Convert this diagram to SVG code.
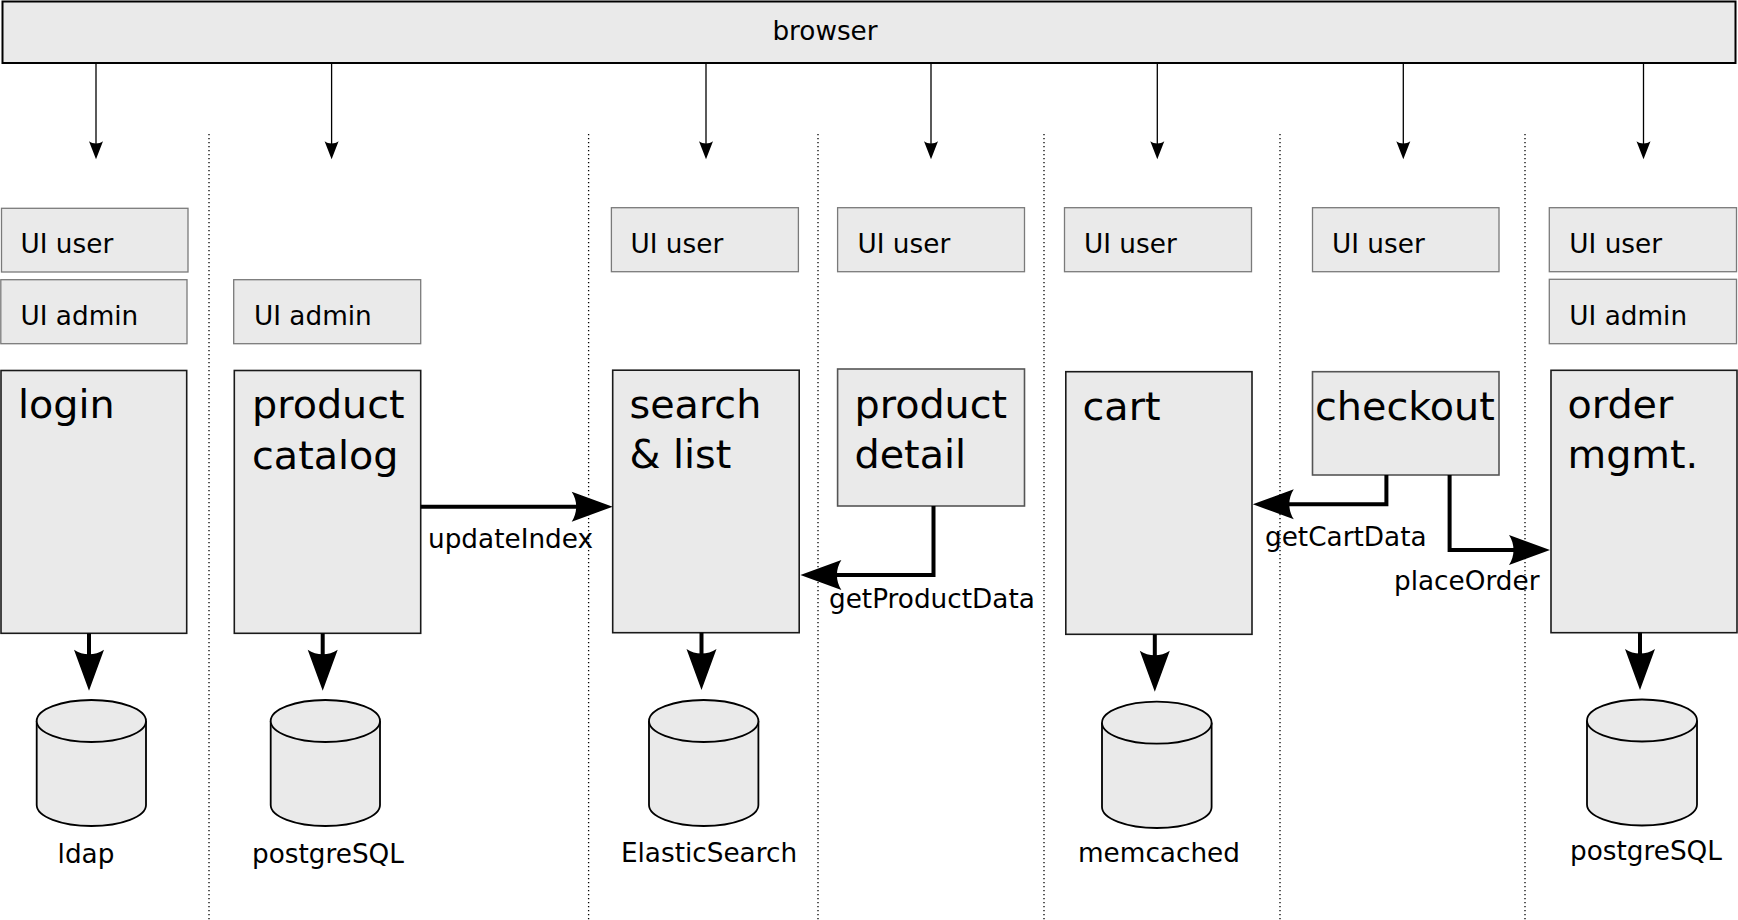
<svg xmlns="http://www.w3.org/2000/svg" width="1738" height="920" viewBox="0 0 1738 920">
<style>
text{font-family:"DejaVu Sans","Liberation Sans",sans-serif;fill:#000}
.ui{fill:#eaeaea;stroke:#7a7a7a;stroke-width:1.3}
.svc{fill:#eaeaea;stroke:#1a1a1a;stroke-width:1.6}
.svc2{fill:#eaeaea;stroke:#555;stroke-width:1.6}
.db{fill:#eaeaea;stroke:#000;stroke-width:1.8}
.t26{font-size:26.3px}
.t39{font-size:39.7px}
.sep{stroke:#000;stroke-width:1.3;stroke-dasharray:1.3 2.7;fill:none}
.thin{stroke:#000;stroke-width:1.3;fill:none;marker-end:url(#small)}
.thick{stroke:#000;stroke-width:4;fill:none;marker-end:url(#big)}
.mid{text-anchor:middle}
</style>
<defs>
<marker id="big" viewBox="-12 -16 44 32" refX="0" refY="0" markerWidth="44" markerHeight="32" markerUnits="userSpaceOnUse" orient="auto">
<path d="M30,0 L-11,-15 C-5,-6 -5,6 -11,15 Z" fill="#000"/>
</marker>
<marker id="small" viewBox="-9 -8 20 16" refX="0" refY="0" markerWidth="20" markerHeight="16" markerUnits="userSpaceOnUse" orient="auto">
<path d="M10,0 L-8,-7 C-5,-3 -5,3 -8,7 Z" fill="#000"/>
</marker>
</defs>

<g id="separators">
<line class="sep" x1="209" y1="134" x2="209" y2="920"/>
<line class="sep" x1="588.6" y1="134" x2="588.6" y2="920"/>
<line class="sep" x1="818" y1="134" x2="818" y2="920"/>
<line class="sep" x1="1044" y1="134" x2="1044" y2="920"/>
<line class="sep" x1="1280" y1="134" x2="1280" y2="920"/>
<line class="sep" x1="1525" y1="134" x2="1525" y2="920"/>
</g>

<g id="browser">
<rect x="2.5" y="1.5" width="1733" height="61.5" fill="#eaeaea" stroke="#000" stroke-width="2"/>
<text class="t26 mid" x="825" y="39.5">browser</text>
</g>

<g id="ui-login-user"><rect class="ui" x="1.5" y="208.3" width="186.5" height="63.7"/><text class="t26" x="20.5" y="253.3">UI user</text></g>
<g id="ui-login-admin"><rect class="ui" x="0.8" y="279.7" width="186.2" height="64"/><text class="t26" x="20.5" y="325">UI admin</text></g>
<g id="ui-catalog-admin"><rect class="ui" x="233.7" y="279.7" width="187" height="64"/><text class="t26" x="254" y="325">UI admin</text></g>
<g id="ui-search-user"><rect class="ui" x="611.4" y="207.7" width="187" height="64"/><text class="t26" x="630.5" y="253.3">UI user</text></g>
<g id="ui-detail-user"><rect class="ui" x="837.6" y="207.7" width="186.9" height="64"/><text class="t26" x="857.5" y="253.3">UI user</text></g>
<g id="ui-cart-user"><rect class="ui" x="1064.5" y="207.7" width="187" height="64"/><text class="t26" x="1084" y="253.3">UI user</text></g>
<g id="ui-checkout-user"><rect class="ui" x="1312.5" y="207.7" width="186.5" height="64"/><text class="t26" x="1332" y="253.3">UI user</text></g>
<g id="ui-order-user"><rect class="ui" x="1549.3" y="207.7" width="187.2" height="64"/><text class="t26" x="1569.3" y="253.3">UI user</text></g>
<g id="ui-order-admin"><rect class="ui" x="1549.3" y="279.3" width="187.2" height="64.4"/><text class="t26" x="1569.3" y="325">UI admin</text></g>

<g id="login"><rect class="svc" x="1" y="370.5" width="185.7" height="262.8"/><text class="t39" x="18" y="418">login</text></g>
<g id="product-catalog"><rect class="svc" x="234.3" y="370.5" width="186.4" height="262.8"/><text class="t39" x="252" y="418">product</text><text class="t39" x="252" y="468.5">catalog</text></g>
<g id="search-list"><rect class="svc" x="612.7" y="370.2" width="186.5" height="262.5"/><text class="t39" x="629.5" y="418">search</text><text class="t39" x="629.5" y="468">&amp; list</text></g>
<g id="product-detail"><rect class="svc2" x="837.6" y="369" width="186.9" height="137"/><text class="t39" x="854.5" y="418">product</text><text class="t39" x="854.5" y="468">detail</text></g>
<g id="cart"><rect class="svc" x="1065.8" y="371.7" width="186.2" height="262.6"/><text class="t39" x="1082.5" y="420">cart</text></g>
<g id="checkout"><rect class="svc2" x="1312.5" y="371.7" width="186.5" height="103.3"/><text class="t39" x="1315" y="420">checkout</text></g>
<g id="order-mgmt"><rect class="svc" x="1551" y="370.3" width="186" height="262.4"/><text class="t39" x="1567.5" y="418">order</text><text class="t39" x="1567.5" y="467.5">mgmt.</text></g>

<g id="db-ldap">
<path class="db" d="M36.7,721 V805 A54.65,21 0 0 0 146,805 V721"/>
<ellipse class="db" cx="91.35" cy="721" rx="54.65" ry="21"/>
<text class="t26 mid" x="86" y="862.7">ldap</text>
</g>
<g id="db-postgres-catalog">
<path class="db" d="M270.7,721 V805 A54.65,21 0 0 0 380,805 V721"/>
<ellipse class="db" cx="325.35" cy="721" rx="54.65" ry="21"/>
<text class="t26 mid" x="328" y="862.7">postgreSQL</text>
</g>
<g id="db-elasticsearch">
<path class="db" d="M649,721 V805 A54.7,21 0 0 0 758.4,805 V721"/>
<ellipse class="db" cx="703.7" cy="721" rx="54.7" ry="21"/>
<text class="t26 mid" x="709" y="861.7">ElasticSearch</text>
</g>
<g id="db-memcached">
<path class="db" d="M1102,722.7 V807 A54.8,21 0 0 0 1211.6,807 V722.7"/>
<ellipse class="db" cx="1156.8" cy="722.7" rx="54.8" ry="21"/>
<text class="t26 mid" x="1159" y="861.7">memcached</text>
</g>
<g id="db-postgres-order">
<path class="db" d="M1587,720.5 V804.5 A55,21 0 0 0 1697,804.5 V720.5"/>
<ellipse class="db" cx="1642" cy="720.5" rx="55" ry="21"/>
<text class="t26 mid" x="1646" y="860">postgreSQL</text>
</g>

<g id="connectors">
<line class="thin" x1="96" y1="63.3" x2="96" y2="149.3"/>
<line class="thin" x1="331.6" y1="63.3" x2="331.6" y2="149.3"/>
<line class="thin" x1="706" y1="63.3" x2="706" y2="149.3"/>
<line class="thin" x1="931" y1="63.3" x2="931" y2="149.3"/>
<line class="thin" x1="1157.3" y1="63.3" x2="1157.3" y2="149.3"/>
<line class="thin" x1="1403.3" y1="63.3" x2="1403.3" y2="149.3"/>
<line class="thin" x1="1643.5" y1="63.3" x2="1643.5" y2="149.3"/>

<path class="thick" d="M420.7,506.7 H582.7"/>
<path class="thick" d="M933.5,506 V575 H830.4"/>
<path class="thick" d="M1386.4,475 V504.3 H1282.8"/>
<path class="thick" d="M1449.6,475 V550 H1520"/>

<path class="thick" d="M89,633.3 V660.7"/>
<path class="thick" d="M322.7,633.3 V660.7"/>
<path class="thick" d="M701.5,632.7 V660"/>
<path class="thick" d="M1154.8,634.3 V661.7"/>
<path class="thick" d="M1640,632.7 V660"/>

<text class="t26" x="428" y="548.3">updateIndex</text>
<text class="t26" x="829" y="608.3">getProductData</text>
<text class="t26" x="1265" y="546">getCartData</text>
<text class="t26" x="1394" y="590">placeOrder</text>
</g>
</svg>
